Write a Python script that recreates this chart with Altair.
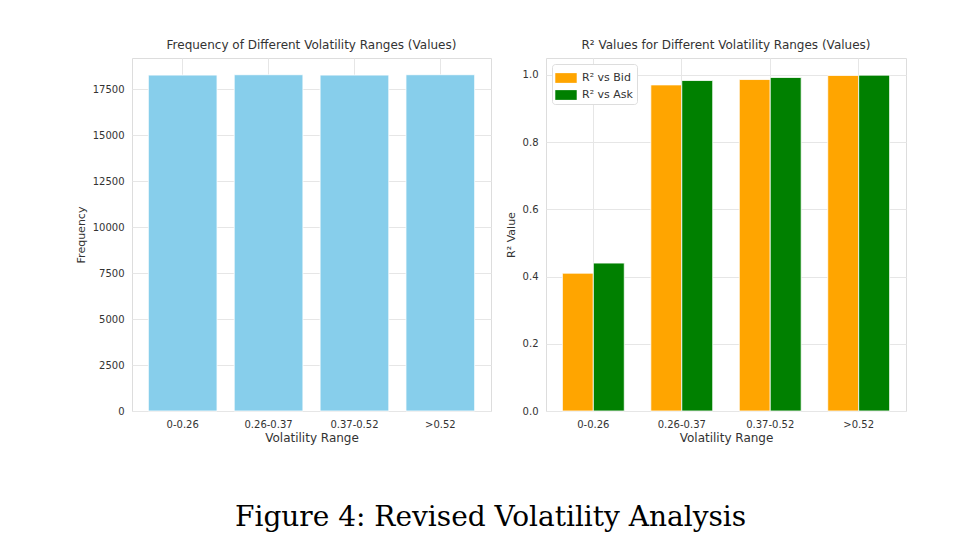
import altair as alt
import pandas as pd

categories = ["0-0.26", "0.26-0.37", "0.37-0.52", ">0.52"]
frequency = [18270, 18290, 18270, 18290]
r2_bid = [0.41, 0.970, 0.986, 0.998]
r2_ask = [0.44, 0.983, 0.992, 0.999]
series_names = ["R² vs Bid", "R² vs Ask"]
series_colors = ["orange", "green"]

freq_df = pd.DataFrame({"range": categories, "freq": frequency})
r2_rows = []
for c, b, a in zip(categories, r2_bid, r2_ask):
    r2_rows.append({"range": c, "series": series_names[0], "value": b})
    r2_rows.append({"range": c, "series": series_names[1], "value": a})
r2_df = pd.DataFrame(r2_rows)

FONT = "DejaVu Sans"
GRID = "#e6e6e6"
TXT = "#333333"

def xaxis():
    return alt.Axis(title="Volatility Range", labelAngle=0, ticks=False, domain=False,
                    grid=True, gridColor=GRID, bandPosition=0.5, labelPadding=8,
                    titlePadding=3, labelFontSize=10, titleFontSize=12,
                    labelColor=TXT, titleColor=TXT, labelFont=FONT, titleFont=FONT,
                    titleFontWeight="normal")

left = alt.Chart(freq_df).mark_bar(color="#87CEEB", stroke="white", strokeWidth=0.8).encode(
    x=alt.X("range:N", sort=categories,
            scale=alt.Scale(paddingInner=0.2, paddingOuter=0.19),
            axis=xaxis()),
    y=alt.Y("freq:Q", scale=alt.Scale(domain=[0, 19200], nice=False),
            axis=alt.Axis(title="Frequency", values=list(range(0, 17501, 2500)), format="d",
                          ticks=False, domain=False, gridColor=GRID, labelPadding=8,
                          titlePadding=6, labelFontSize=10, titleFontSize=11,
                          labelColor=TXT, titleColor=TXT, labelFont=FONT, titleFont=FONT,
                          titleFontWeight="normal")),
).properties(
    width=359, height=353,
    title=alt.TitleParams("Frequency of Different Volatility Ranges (Values)", fontSize=12,
                          font=FONT, fontWeight="normal", color=TXT, offset=6),
)

rect_path = "M-1.1,-0.5L1.1,-0.5L1.1,0.5L-1.1,0.5Z"

right = alt.Chart(r2_df).mark_bar(stroke="white", strokeWidth=0.8).encode(
    x=alt.X("range:N", sort=categories,
            scale=alt.Scale(paddingInner=0.3, paddingOuter=0.185),
            axis=xaxis()),
    xOffset=alt.XOffset("series:N", sort=series_names,
                        scale=alt.Scale(paddingInner=0, paddingOuter=0)),
    y=alt.Y("value:Q", scale=alt.Scale(domain=[0, 1.05], nice=False),
            axis=alt.Axis(title="R² Value", values=[0, 0.2, 0.4, 0.6, 0.8, 1.0], format=".1f",
                          ticks=False, domain=False, gridColor=GRID, labelPadding=8,
                          titlePadding=6, labelFontSize=10, titleFontSize=11,
                          labelColor=TXT, titleColor=TXT, labelFont=FONT, titleFont=FONT,
                          titleFontWeight="normal")),
    color=alt.Color("series:N", sort=series_names,
                    scale=alt.Scale(domain=series_names, range=series_colors),
                    legend=alt.Legend(title=None, orient="top-left", offset=6,
                                      symbolType=rect_path, symbolSize=380,
                                      symbolStrokeWidth=0, labelFontSize=11, labelFont=FONT,
                                      labelColor=TXT, fillColor="white", labelOffset=6,
                                      strokeColor="#dddddd", padding=4, cornerRadius=3,
                                      rowPadding=2)),
).properties(
    width=360, height=353,
    title=alt.TitleParams("R² Values for Different Volatility Ranges (Values)", fontSize=12,
                          font=FONT, fontWeight="normal", color=TXT, offset=6),
)

chart = alt.hconcat(left, right, spacing=12).resolve_legend(color="independent").resolve_scale(
    color="independent"
).properties(
    title=alt.TitleParams("Figure 4: Revised Volatility Analysis", orient="bottom",
                          anchor="middle", fontSize=28, font="DejaVu Serif",
                          fontWeight="normal", color="black", offset=60),
    padding={"left": 66, "top": 30, "right": 5, "bottom": 5},
).configure_view(stroke="#cccccc", strokeWidth=1).configure(background="white")

chart.save("out.html", embed_options={"renderer": "svg", "actions": False})
